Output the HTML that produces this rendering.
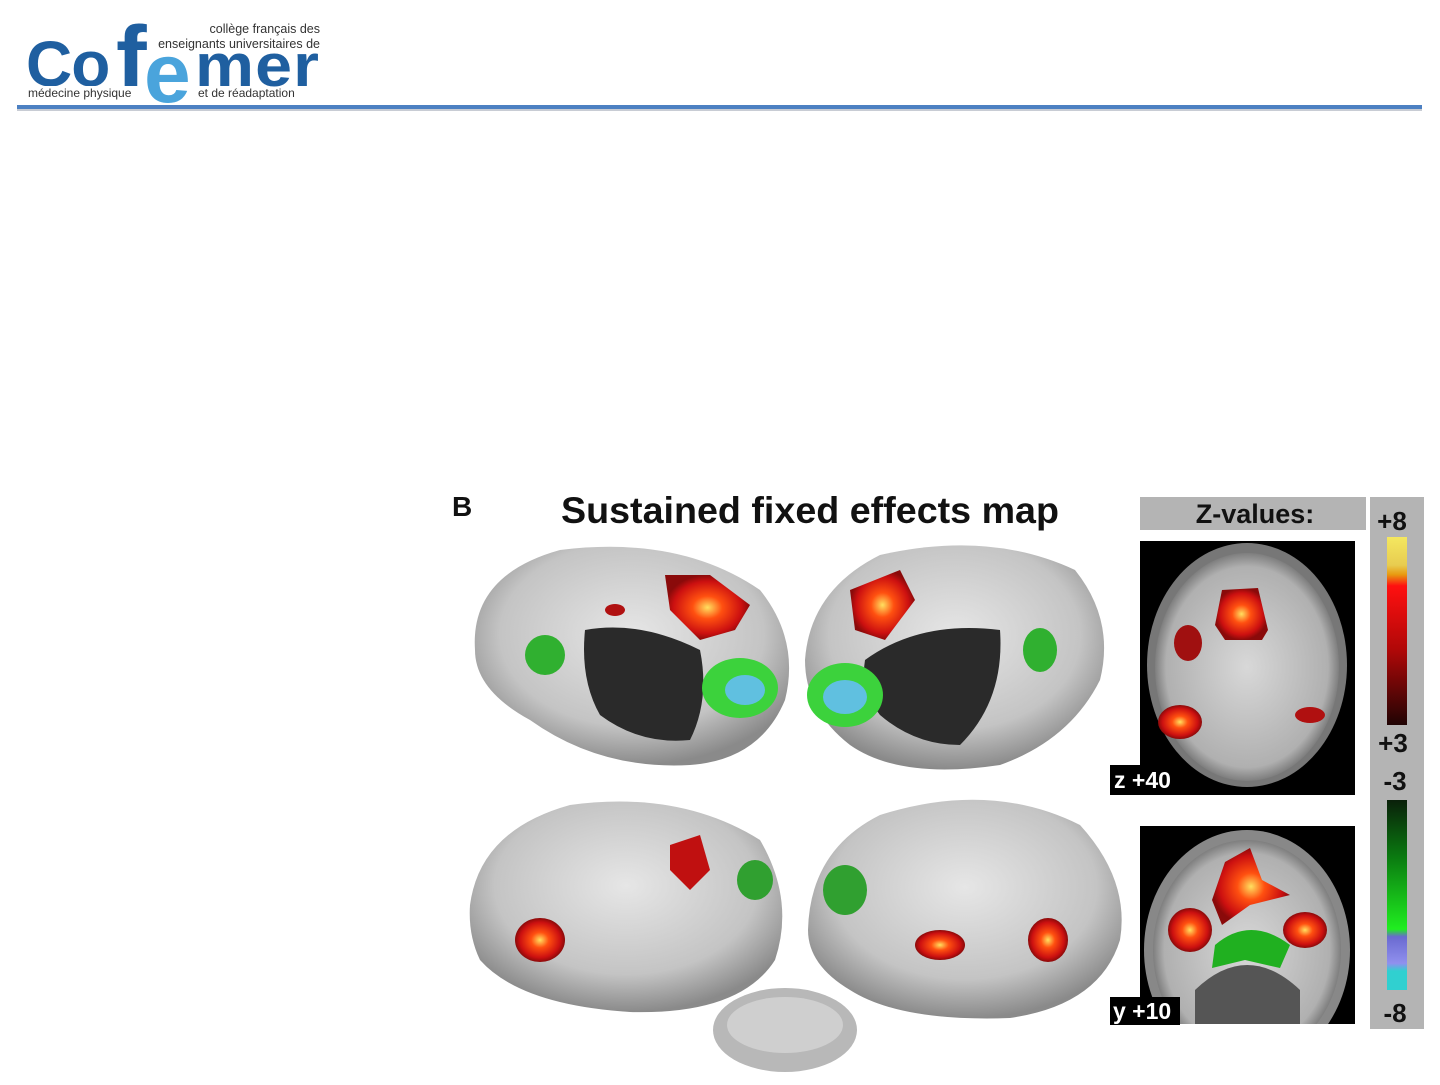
<!DOCTYPE html>
<html><head><style>
body{margin:0;width:1440px;height:1080px;background:#fff;overflow:hidden;font-family:"Liberation Sans",sans-serif}
</style></head><body>
<svg width="1440" height="1080" viewBox="0 0 1440 1080" xmlns="http://www.w3.org/2000/svg">
<defs>
<radialGradient id="g" cx="50%" cy="40%" r="60%"><stop offset="0" stop-color="#e6e6e6"/><stop offset="0.7" stop-color="#c4c4c4"/><stop offset="1" stop-color="#8a8a8a"/></radialGradient>
<radialGradient id="hot" cx="50%" cy="50%" r="50%"><stop offset="0" stop-color="#ffe060"/><stop offset="0.35" stop-color="#ff5010"/><stop offset="0.8" stop-color="#cc1010"/><stop offset="1" stop-color="#8a0a0a"/></radialGradient>
<radialGradient id="mri" cx="50%" cy="50%" r="55%"><stop offset="0" stop-color="#d8d8d8"/><stop offset="0.8" stop-color="#b0b0b0"/><stop offset="1" stop-color="#555"/></radialGradient>
<linearGradient id="cb1" x1="0" y1="0" x2="0" y2="1"><stop offset="0" stop-color="#f4e860"/><stop offset="0.15" stop-color="#e8cc50"/><stop offset="0.2" stop-color="#e89a10"/><stop offset="0.26" stop-color="#ff1010"/><stop offset="0.6" stop-color="#b00808"/><stop offset="1" stop-color="#200404"/></linearGradient>
<linearGradient id="cb2" x1="0" y1="0" x2="0" y2="1"><stop offset="0" stop-color="#0a200a"/><stop offset="0.3" stop-color="#0a7a10"/><stop offset="0.68" stop-color="#20ee20"/><stop offset="0.72" stop-color="#6a6ad0"/><stop offset="0.86" stop-color="#9090ee"/><stop offset="0.9" stop-color="#30d0d0"/><stop offset="1" stop-color="#30d0d0"/></linearGradient>
<clipPath id="c1"><rect x="1140" y="541" width="215" height="254"/></clipPath>
<clipPath id="c2"><rect x="1140" y="826" width="215" height="198"/></clipPath>
</defs>
<!-- logo -->
<text x="26" y="86" font-size="64" font-weight="bold" fill="#1f5fa0" letter-spacing="-1">Co</text>
<text x="116" y="90" font-size="92" font-weight="bold" fill="#1f5fa0">f</text>
<text x="144" y="102" font-size="84" font-weight="bold" fill="#4aa4dc">e</text>
<text x="195" y="86" font-size="60" font-weight="bold" fill="#1f5fa0" letter-spacing="1" textLength="125" lengthAdjust="spacingAndGlyphs">mer</text>
<text x="320" y="33" font-size="12.5" fill="#333" text-anchor="end">collège français des</text>
<text x="320" y="48" font-size="12.5" fill="#333" text-anchor="end">enseignants universitaires de</text>
<rect x="26" y="86" width="118" height="14" fill="#fff"/>
<text x="28" y="97" font-size="12" fill="#333">médecine physique</text>
<text x="198" y="97" font-size="12" fill="#333">et de réadaptation</text>
<rect x="17" y="105" width="1405" height="4" fill="#4c80c2"/>
<rect x="17" y="109" width="1405" height="2" fill="#c8ccd4"/>
<!-- title -->
<text x="452" y="516" font-size="28" font-weight="bold" fill="#111">B</text>
<text x="810" y="523" font-size="37" font-weight="bold" fill="#111" text-anchor="middle" textLength="498" lengthAdjust="spacingAndGlyphs">Sustained fixed effects map</text>
<rect x="1140" y="497" width="226" height="33" fill="#b4b4b4"/>
<text x="1255" y="523" font-size="27" font-weight="bold" fill="#111" text-anchor="middle">Z-values:</text>
<rect x="1370" y="497" width="54" height="532" fill="#b4b4b4"/>
<text x="1392" y="530" font-size="26" font-weight="bold" fill="#111" text-anchor="middle">+8</text>
<rect x="1387" y="537" width="20" height="188" fill="url(#cb1)"/>
<text x="1393" y="752" font-size="26" font-weight="bold" fill="#111" text-anchor="middle">+3</text>
<text x="1395" y="790" font-size="26" font-weight="bold" fill="#111" text-anchor="middle">-3</text>
<rect x="1387" y="800" width="20" height="190" fill="url(#cb2)"/>
<text x="1395" y="1022" font-size="26" font-weight="bold" fill="#111" text-anchor="middle">-8</text>
<!-- axial -->
<rect x="1140" y="541" width="215" height="254" fill="#000"/>
<g clip-path="url(#c1)">
<ellipse cx="1247" cy="665" rx="100" ry="122" fill="#777"/>
<ellipse cx="1247" cy="667" rx="92" ry="114" fill="url(#mri)"/>
<path d="M1222 590 L1258 588 L1268 630 L1262 640 L1225 640 L1215 625Z" fill="url(#hot)"/>
<ellipse cx="1188" cy="643" rx="14" ry="18" fill="#a01010"/>
<ellipse cx="1180" cy="722" rx="22" ry="17" fill="url(#hot)"/>
<ellipse cx="1310" cy="715" rx="15" ry="8" fill="#b01010"/>
</g>
<rect x="1110" y="765" width="70" height="30" fill="#000"/>
<text x="1114" y="788" font-size="23" font-weight="bold" fill="#fff">z +40</text>
<!-- coronal -->
<rect x="1140" y="826" width="215" height="198" fill="#000"/>
<g clip-path="url(#c2)">
<ellipse cx="1247" cy="950" rx="103" ry="120" fill="#888"/>
<ellipse cx="1247" cy="950" rx="94" ry="110" fill="url(#mri)"/>
<path d="M1195 990 Q1247 940 1300 990 L1300 1024 L1195 1024Z" fill="#555"/>
<path d="M1225 862 L1250 848 L1262 880 L1290 895 L1250 905 L1222 925 L1212 900Z" fill="url(#hot)"/>
<ellipse cx="1190" cy="930" rx="22" ry="22" fill="url(#hot)"/>
<ellipse cx="1305" cy="930" rx="22" ry="18" fill="url(#hot)"/>
<path d="M1215 945 Q1250 915 1290 945 L1280 968 L1245 960 L1212 968Z" fill="#20b020"/>
</g>
<rect x="1110" y="997" width="70" height="28" fill="#000"/>
<text x="1113" y="1019" font-size="23" font-weight="bold" fill="#fff">y +10</text>
<!-- brains -->
<path d="M475 650 Q470 575 560 550 Q680 535 760 590 Q800 640 785 700 Q760 760 690 765 Q600 770 530 720 Q475 690 475 650Z" fill="url(#g)"/>
<path d="M585 630 Q640 620 700 650 Q710 700 690 740 Q640 745 600 715 Q580 680 585 630Z" fill="#2a2a2a"/>
<path d="M665 575 L710 575 L750 605 L735 630 L700 640 L670 610Z" fill="url(#hot)"/>
<ellipse cx="740" cy="688" rx="38" ry="30" fill="#3cd23c"/>
<ellipse cx="745" cy="690" rx="20" ry="15" fill="#60c0e0"/>
<ellipse cx="545" cy="655" rx="20" ry="20" fill="#30b030"/>
<ellipse cx="615" cy="610" rx="10" ry="6" fill="#b01010"/>
<path d="M805 660 Q810 590 880 555 Q990 530 1075 570 Q1115 620 1100 680 Q1070 740 1000 765 Q900 780 850 745 Q805 710 805 660Z" fill="url(#g)"/>
<path d="M865 660 Q920 620 1000 630 Q1005 700 960 745 Q915 745 880 715 Q860 690 865 660Z" fill="#2a2a2a"/>
<path d="M850 590 L900 570 L915 600 L885 640 L855 630Z" fill="url(#hot)"/>
<ellipse cx="845" cy="695" rx="38" ry="32" fill="#3cd23c"/>
<ellipse cx="845" cy="697" rx="22" ry="17" fill="#60c0e0"/>
<ellipse cx="1040" cy="650" rx="17" ry="22" fill="#30b030"/>
<path d="M470 905 Q480 830 570 805 Q680 790 760 840 Q795 900 775 960 Q740 1015 630 1012 Q520 1005 480 960 Q468 935 470 905Z" fill="url(#g)"/>
<ellipse cx="540" cy="940" rx="25" ry="22" fill="url(#hot)"/>
<path d="M670 845 L700 835 L710 870 L690 890 L670 870Z" fill="#c01010"/>
<ellipse cx="755" cy="880" rx="18" ry="20" fill="#30a030"/>
<path d="M808 930 Q810 850 880 815 Q990 780 1080 825 Q1130 880 1120 940 Q1100 1005 1010 1018 Q900 1022 850 990 Q808 965 808 930Z" fill="url(#g)"/>
<ellipse cx="940" cy="945" rx="25" ry="15" fill="url(#hot)"/>
<ellipse cx="1048" cy="940" rx="20" ry="22" fill="url(#hot)"/>
<ellipse cx="845" cy="890" rx="22" ry="25" fill="#30a030"/>
<ellipse cx="785" cy="1030" rx="72" ry="42" fill="#b8b8b8"/>
<ellipse cx="785" cy="1025" rx="58" ry="28" fill="#cfcfcf"/>
</svg>
</body></html>
